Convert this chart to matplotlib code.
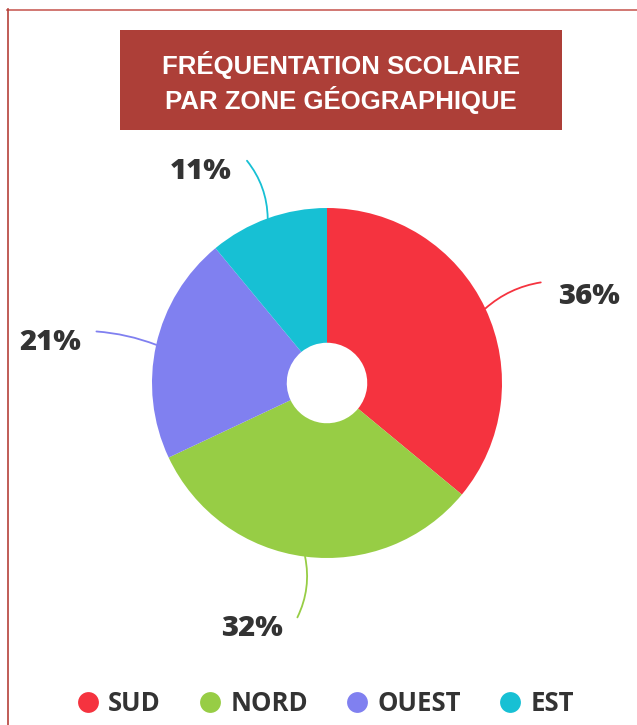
import matplotlib
matplotlib.use("Agg")
import matplotlib.pyplot as plt
import numpy as np
from matplotlib.patches import Rectangle, FancyArrowPatch
from matplotlib.lines import Line2D

# data
zones = ["SUD", "NORD", "OUEST", "EST"]
shares = [36, 32, 21, 11]
colors = ["#F5333F", "#97CD45", "#8080F0", "#17C0D4"]
title_lines = ["FRÉQUENTATION SCOLAIRE", "PAR ZONE GÉOGRAPHIQUE"]

W, H = 637, 725
fig = plt.figure(figsize=(W / 100, H / 100), dpi=100)
fig.patch.set_facecolor("white")

# thin frame on top and left
fig.add_artist(Line2D([7 / W, 1], [1 - 9.5 / H, 1 - 9.5 / H], color="#c9605a", lw=1.2))
fig.add_artist(Line2D([7.5 / W, 7.5 / W], [0, 1 - 9 / H], color="#b5413a", lw=1.2))

# title box
fig.add_artist(Rectangle((120 / W, 1 - 130 / H), 442 / W, 100 / H,
                         transform=fig.transFigure, color="#ad3f38", lw=0))
for i, line in enumerate(title_lines):
    fig.text(341 / W, 1 - (65 + 35 * i) / H, line, ha="center", va="center",
             color="white", fontsize=18.5, fontweight="bold", family="Liberation Sans")

# donut
cx, cy, R = 327, 383, 175
ax = fig.add_axes([(cx - R) / W, (H - cy - R) / H, 2 * R / W, 2 * R / H])
wedges, _ = ax.pie(shares, colors=colors, startangle=90, counterclock=False,
                   radius=1, wedgeprops=dict(width=0.77, edgecolor="none"))
ax.set_xlim(-1, 1)
ax.set_ylim(-1, 1)
ax.set_aspect("equal")
ax.axis("off")

for w, val, c in zip(wedges, shares, colors):
    mid_deg = (w.theta1 + w.theta2) / 2
    mid = np.deg2rad(mid_deg)
    start = (np.cos(mid), np.sin(mid))
    end = (1.35 * np.cos(mid), 1.35 * np.sin(mid))
    # gentle bow toward the nearest vertical, almost none for side labels
    a = (mid_deg + 180) % 360 - 180
    vert = 90 if a > 0 else -90
    rad = 0.17 * np.sign(vert - a) * min(1, 2 * abs(np.sin(mid)))
    arc = FancyArrowPatch(end, start, arrowstyle="-", color=c, lw=1.3,
                          connectionstyle="arc3,rad=%.3f" % rad,
                          shrinkA=0, shrinkB=0, clip_on=False)
    ax.add_patch(arc)
    if np.cos(mid) > 0:
        off, ha = (17, -14), "left"
    else:
        off, ha = (-15, -11), "right"
    ax.annotate("%d%%" % val, xy=end, xytext=off, textcoords="offset pixels",
                ha=ha, va="center", fontsize=21, fontweight=800,
                family="Open Sans", color="#333333", annotation_clip=False)

# legend
handles = [Line2D([], [], marker="o", ls="none", markersize=15,
                  markerfacecolor=c, markeredgecolor="none") for c in colors]
leg = fig.legend(handles, zones, loc="center", ncol=4, frameon=False,
                 bbox_to_anchor=(325.5 / W, 1 - 703.5 / H),
                 handlelength=0.8, handletextpad=0.4, columnspacing=1.5,
                 prop=dict(family="Open Sans", weight="bold", size=18.5))
for t in leg.get_texts():
    t.set_color("#333333")

fig.savefig("out.png", dpi=100, facecolor="white")
